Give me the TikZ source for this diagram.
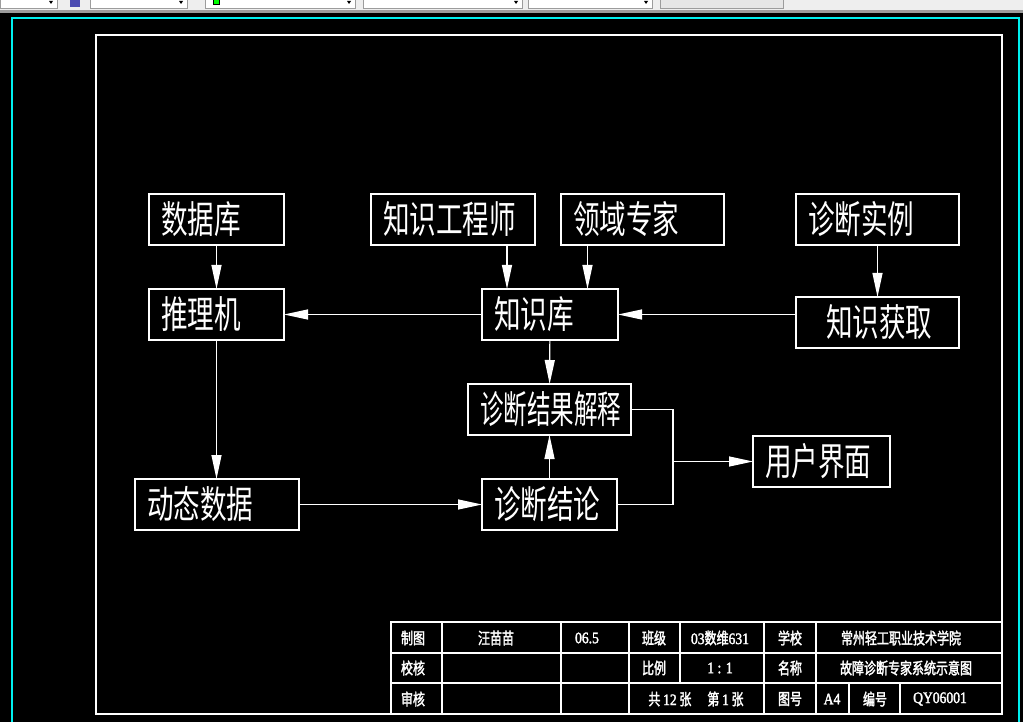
\documentclass[tikz,border=0pt]{standalone}
\usepackage{fontspec}
\usetikzlibrary{arrows.meta}
\definecolor{cadCyan}{HTML}{00F0F0}
\definecolor{barGray}{HTML}{EEEEEE}
\definecolor{barEdge}{HTML}{9C9C9C}
\definecolor{fieldGray}{HTML}{E6E6E6}
\newfontfamily\cjk[FakeStretch=0.7]{Noto Sans CJK SC}
\newfontfamily\cjknar[FakeStretch=0.62]{Noto Sans CJK SC}
\newfontfamily\cjktab[FakeStretch=0.75,FakeBold=2]{Noto Sans CJK SC}
\newfontfamily\numtab[FakeStretch=0.85,FakeBold=2]{Liberation Serif}

\begin{document}
\begin{tikzpicture}[x=1pt, y=-1pt, line width=1.2pt,
    box/.style={draw=white, text=white, anchor=north west, outer sep=0pt,
      inner xsep=12pt, inner ysep=0pt, minimum height=51pt, align=left,
      font=\cjk\fontsize{38}{40}\selectfont, text width=#1},
    arr/.style={white, -{Triangle[length=24pt,width=10pt]}},
    tab/.style={text=white, font=\cjktab\fontsize{16}{18}\selectfont}]
  \useasboundingbox (0,0) rectangle (1023,722);
  \fill[black] (0,0) rectangle (1023,722);
  % toolbar
  \fill[barGray] (0,0) rectangle (1023,10);
  \fill[barEdge] (0,10) rectangle (1023,13);
  \foreach \a/\b in {0/57,90/187,205/355,363/522,528/652}{
    \filldraw[fill=white, draw=barEdge, line width=0.6pt] (\a,-1) rectangle (\b,8);
    \fill[black] (\b-8,1) -- (\b-4,1) -- (\b-6,4) -- cycle;
  }
  \filldraw[fill=fieldGray, draw=barEdge, line width=0.6pt] (660,-1) rectangle (783,8);
  \filldraw[fill=green, draw=black, line width=0.5pt] (213,-1) rectangle (219,4);
  \fill[blue!40!gray] (70,0) rectangle (80,7);
  % drawing frames
  \draw[cadCyan, line width=1.4pt] (12,722) |- (1019,18) -- (1019,722);
  \draw[white] (96,35) rectangle (1002,714);

  \node[box=111pt] (sjk) at (149,194) {数据库};
  \node[box=111pt] (tlj) at (149,289) {推理机};
  \node[box=140pt] (gcs) at (371,194) {知识工程师};
  \node[box=139pt] (lyzj) at (561,194) {领域专家};
  \node[box=112pt] (zsk) at (482,289) {知识库};
  \node[box=139pt] (zdsl) at (796,194) {诊断实例};
  \node[box=139pt] (zshq) at (796,297) {\hspace*{18pt}知识获取};
  \node[box=139pt, font=\cjknar\fontsize{38}{40}\selectfont] (jgjs) at (468,384) {诊断结果解释};
  \node[box=111pt] (zdjl) at (482,479) {诊断结论};
  \node[box=113pt] (yhjm) at (753,436) {用户界面};
  \node[box=140pt] (dtsj) at (135,479) {动态数据};

  \draw[arr] (sjk) -- (tlj);
  \draw[arr] ([xshift=54pt]gcs.south) -- ([xshift=54pt]gcs.south |- zsk.north);
  \draw[arr] ([xshift=-55pt]lyzj.south) -- ([xshift=-55pt]lyzj.south |- zsk.north);
  \draw[arr] (zsk.west) -- (tlj.east);
  \draw[arr] (zdsl) -- (zshq);
  \draw[arr] (zshq.west |- zsk.east) -- (zsk.east);
  \draw[arr] (tlj.south) -- (tlj.south |- dtsj.north);
  \draw[arr] (zsk) -- (jgjs);
  \draw[arr] (zdjl) -- (jgjs);
  \draw[arr] (dtsj) -- (zdjl);
  \coordinate (fk) at ([xshift=42pt]jgjs.east);
  \draw[white] (jgjs.east) -- (fk) |- (zdjl.east);
  \draw[arr] (fk |- yhjm.west) -- (yhjm.west);

  % title block
  \draw[white] (391,714) |- (1002,622);
  \draw[white] (391,653) -- (1002,653) (391,683) -- (1002,683);
  \foreach \x in {442,561,629,764,816} \draw[white] (\x,622) -- (\x,714);
  \draw[white] (680,622) -- (680,683) (849,683) -- (849,714) (900,683) -- (900,714);
  \foreach \x/\y/\t [count=\i] in {413/638/制图, 496/638/汪苗苗, 654/638/班级, 790/638/学校,
      901/638/常州轻工职业技术学院, 413/668/校核, 654/668/比例, 790/668/名称,
      906/668/故障诊断专家系统示意图, 413/699/审核, 790/699/图号, 875/699/编号}
    \node[tab] (tb\i) at (\x,\y) {\t};
  \node[tab] (rq) at (587,638) {\numtab 06.5};
  \node[tab] (bj) at (720,638) {{\numtab 03}数维{\numtab 631}};
  \node[tab] (bl) at (720,668) {\numtab 1 : 1};
  \node[tab] (zs) at (696,699) {共\ {\numtab 12}\ 张\quad 第\ {\numtab 1}\ 张};
  \node[tab] (tf) at (832,699) {\numtab A4};
  \node[tab] (bh) at (940,699) {\numtab QY06001};
\end{tikzpicture}
\end{document}
